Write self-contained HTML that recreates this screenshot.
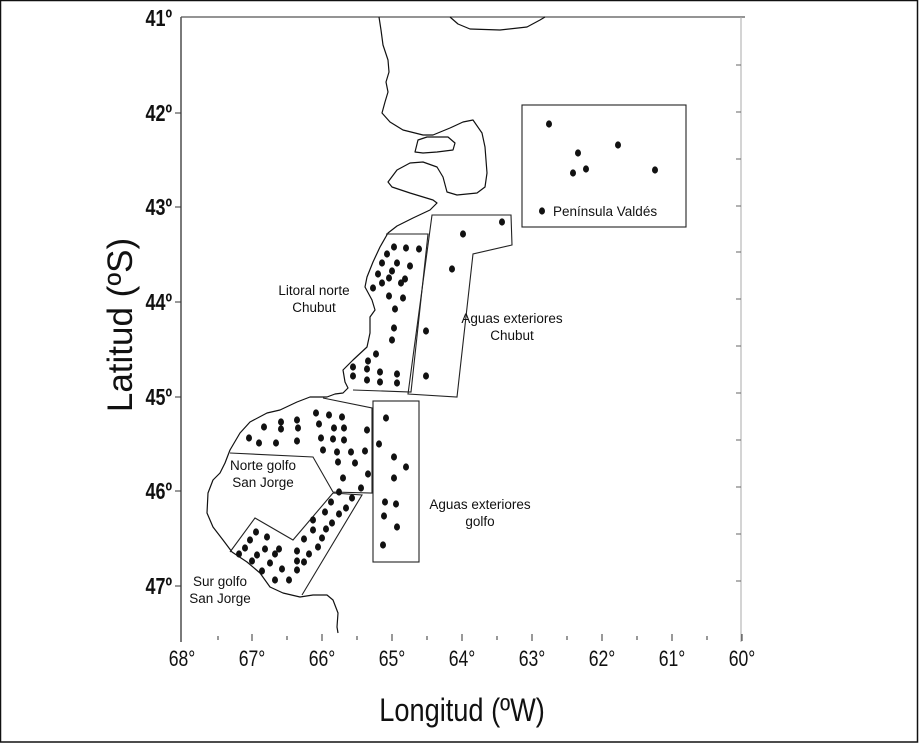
<!DOCTYPE html>
<html><head><meta charset="utf-8"><style>
html,body{margin:0;padding:0;background:#fff;}
svg{display:block;}
text{font-family:"Liberation Sans",Arial,sans-serif;fill:#111;}
ellipse{rx:3px;ry:3.6px;}
</style></head><body>
<svg width="920" height="743" viewBox="0 0 920 743" xmlns="http://www.w3.org/2000/svg">
<rect x="0.5" y="0.5" width="917" height="741.5" fill="#fff" stroke="#111" stroke-width="1.5"/>
<line x1="181" y1="17" x2="181" y2="642" stroke="#333" stroke-width="1.3"/>
<line x1="181" y1="17" x2="745" y2="17" stroke="#555" stroke-width="1.3"/>
<line x1="741" y1="17" x2="741" y2="642" stroke="#aaa" stroke-width="1"/>
<g stroke="#333" stroke-width="1">
<line x1="175" y1="113" x2="181" y2="113"/><line x1="175" y1="207" x2="181" y2="207"/>
<line x1="175" y1="302" x2="181" y2="302"/><line x1="175" y1="397" x2="181" y2="397"/>
<line x1="175" y1="491" x2="181" y2="491"/><line x1="175" y1="586" x2="181" y2="586"/>
</g>
<g stroke="#666" stroke-width="1">
<line x1="741" y1="65" x2="736" y2="65"/><line x1="741" y1="112" x2="736" y2="112"/>
<line x1="741" y1="159" x2="736" y2="159"/><line x1="741" y1="206" x2="736" y2="206"/>
<line x1="741" y1="252" x2="736" y2="252"/><line x1="741" y1="299" x2="736" y2="299"/>
<line x1="741" y1="346" x2="736" y2="346"/><line x1="741" y1="393" x2="736" y2="393"/>
<line x1="741" y1="440" x2="736" y2="440"/><line x1="741" y1="487" x2="736" y2="487"/>
<line x1="741" y1="534" x2="736" y2="534"/><line x1="741" y1="581" x2="736" y2="581"/>
</g>
<g stroke="#333" stroke-width="1">
<line x1="218" y1="636" x2="218" y2="640"/><line x1="252" y1="634" x2="252" y2="641"/>
<line x1="287" y1="636" x2="287" y2="640"/><line x1="322" y1="634" x2="322" y2="641"/>
<line x1="357" y1="636" x2="357" y2="640"/><line x1="392" y1="634" x2="392" y2="641"/>
<line x1="427" y1="636" x2="427" y2="640"/><line x1="462" y1="634" x2="462" y2="641"/>
<line x1="497" y1="636" x2="497" y2="640"/><line x1="532" y1="634" x2="532" y2="641"/>
<line x1="567" y1="636" x2="567" y2="640"/><line x1="602" y1="634" x2="602" y2="641"/>
<line x1="637" y1="636" x2="637" y2="640"/><line x1="672" y1="634" x2="672" y2="641"/>
<line x1="707" y1="636" x2="707" y2="640"/><line x1="742" y1="634" x2="742" y2="641"/>
</g>
<g font-size="23" font-weight="bold" text-anchor="end">
<text transform="translate(172,26) scale(0.78,1)">41º</text>
<text transform="translate(172,121) scale(0.78,1)">42º</text>
<text transform="translate(172,215) scale(0.78,1)">43º</text>
<text transform="translate(172,310) scale(0.78,1)">44º</text>
<text transform="translate(172,405) scale(0.78,1)">45º</text>
<text transform="translate(172,499) scale(0.78,1)">46º</text>
<text transform="translate(172,594) scale(0.78,1)">47º</text>
</g>
<g font-size="22" text-anchor="middle">
<text transform="translate(182,666) scale(0.8,1)">68°</text>
<text transform="translate(252,666) scale(0.8,1)">67°</text>
<text transform="translate(322,666) scale(0.8,1)">66°</text>
<text transform="translate(392,666) scale(0.8,1)">65°</text>
<text transform="translate(462,666) scale(0.8,1)">64°</text>
<text transform="translate(532,666) scale(0.8,1)">63°</text>
<text transform="translate(602,666) scale(0.8,1)">62°</text>
<text transform="translate(672,666) scale(0.8,1)">61°</text>
<text transform="translate(742,666) scale(0.8,1)">60°</text>
</g>
<text transform="translate(462,721) scale(0.85,1)" font-size="32" text-anchor="middle">Longitud (ºW)</text>
<text transform="translate(132,325) rotate(-90)" font-size="35" text-anchor="middle">Latitud (ºS)</text>

<g fill="none" stroke="#111" stroke-width="1.2" stroke-linejoin="round">
<path d="M379,17 L381,30 L383,45 L388,60 L389,72 L386,82 L388,92 L385,102 L382,113 L390,122 L403,130 L423,135 L433,135 L450,128 L463,122 L473,120 L482,133 L485,147 L487,173 L485,187 L477,193 L457,195 L447,192 L443,177 L437,167 L423,162 L410,163 L397,170 L388,182 L392,187 L410,193 L433,200 L437,203 L430,210 L413,218 L397,226 L388,233 L380,247 L373,262 L367,277 L365,287 L372,300 L375,310 L370,317 L370,333 L367,347 L353,360 L343,370 L345,382 L348,388 L343,393 L335,394 L327,397 L310,397 L297,402 L280,410 L267,413 L250,422 L240,433 L230,450 L225,463 L220,473 L213,480 L208,493 L207,513 L213,527 L223,540 L232,552 L247,562 L260,573 L270,587 L283,593 L300,597 L313,595 L327,595 L333,600 L338,613 L337,627 L338,633"/>
<path d="M415,152 L418,140 L427,137 L448,137 L455,143 L453,150 L437,152 L423,153 Z"/>
<path d="M450,17 L458,24 L470,29 L500,30 L527,27 L540,20 L545,17"/>
</g>
<g fill="none" stroke="#222" stroke-width="1.1">
<path d="M386,234 L428,234 L411,392 L353,390"/>
<path d="M432,215 L511,215 L512,245 L473,254 L457,397 L408,394 Z"/>
<path d="M323,398 L372,408 L372,493 L333,492 L313,457 L230,453"/>
<path d="M333,493 L362,495 L302,595 M230,552 L255,518 L293,540 L333,493"/>
<rect x="373" y="401" width="46" height="161"/>
<rect x="522" y="105" width="164" height="122"/>
</g>
<g fill="#111">
<ellipse cx="394" cy="247" rx="3" ry="3.6"/><ellipse cx="406" cy="248" rx="3" ry="3.6"/><ellipse cx="419" cy="249" rx="3" ry="3.6"/>
<ellipse cx="387" cy="254" rx="3" ry="3.6"/><ellipse cx="382" cy="263" rx="3" ry="3.6"/><ellipse cx="397" cy="263" rx="3" ry="3.6"/>
<ellipse cx="410" cy="266" rx="3" ry="3.6"/><ellipse cx="378" cy="274" rx="3" ry="3.6"/><ellipse cx="392" cy="271" rx="3" ry="3.6"/>
<ellipse cx="389" cy="278" rx="3" ry="3.6"/><ellipse cx="382" cy="283" rx="3" ry="3.6"/><ellipse cx="405" cy="279" rx="3" ry="3.6"/>
<ellipse cx="401" cy="283" rx="3" ry="3.6"/><ellipse cx="373" cy="288" rx="3" ry="3.6"/><ellipse cx="389" cy="296" rx="3" ry="3.6"/>
<ellipse cx="403" cy="298" rx="3" ry="3.6"/><ellipse cx="395" cy="309" rx="3" ry="3.6"/><ellipse cx="394" cy="328" rx="3" ry="3.6"/>
<ellipse cx="392" cy="340" rx="3" ry="3.6"/><ellipse cx="376" cy="354" rx="3" ry="3.6"/><ellipse cx="368" cy="361" rx="3" ry="3.6"/>
<ellipse cx="353" cy="367" rx="3" ry="3.6"/><ellipse cx="367" cy="369" rx="3" ry="3.6"/><ellipse cx="353" cy="376" rx="3" ry="3.6"/>
<ellipse cx="367" cy="380" rx="3" ry="3.6"/><ellipse cx="380" cy="372" rx="3" ry="3.6"/><ellipse cx="380" cy="382" rx="3" ry="3.6"/>
<ellipse cx="397" cy="374" rx="3" ry="3.6"/><ellipse cx="397" cy="383" rx="3" ry="3.6"/>
<ellipse cx="502" cy="222" rx="3" ry="3.6"/><ellipse cx="463" cy="234" rx="3" ry="3.6"/><ellipse cx="452" cy="269" rx="3" ry="3.6"/>
<ellipse cx="426" cy="331" rx="3" ry="3.6"/><ellipse cx="426" cy="376" rx="3" ry="3.6"/>
<ellipse cx="549" cy="124" rx="3.2" ry="3.7"/><ellipse cx="578" cy="153" rx="3" ry="3.6"/><ellipse cx="573" cy="173" rx="3" ry="3.6"/>
<ellipse cx="586" cy="169" rx="3" ry="3.6"/><ellipse cx="618" cy="145" rx="3.2" ry="3.7"/><ellipse cx="655" cy="170" rx="3" ry="3.6"/>
<ellipse cx="542" cy="211" rx="3" ry="3.6"/>
<ellipse cx="316" cy="413" rx="3" ry="3.6"/><ellipse cx="329" cy="415" rx="3" ry="3.6"/><ellipse cx="342" cy="417" rx="3" ry="3.6"/>
<ellipse cx="264" cy="427" rx="3" ry="3.6"/><ellipse cx="281" cy="422" rx="3" ry="3.6"/><ellipse cx="281" cy="429" rx="3" ry="3.6"/>
<ellipse cx="297" cy="420" rx="3" ry="3.6"/><ellipse cx="298" cy="428" rx="3" ry="3.6"/><ellipse cx="319" cy="424" rx="3" ry="3.6"/>
<ellipse cx="334" cy="428" rx="3" ry="3.6"/><ellipse cx="344" cy="428" rx="3" ry="3.6"/><ellipse cx="367" cy="430" rx="3" ry="3.6"/>
<ellipse cx="249" cy="438" rx="3" ry="3.6"/><ellipse cx="259" cy="443" rx="3" ry="3.6"/><ellipse cx="276" cy="443" rx="3" ry="3.6"/>
<ellipse cx="297" cy="441" rx="3" ry="3.6"/><ellipse cx="321" cy="438" rx="3" ry="3.6"/><ellipse cx="333" cy="439" rx="3" ry="3.6"/>
<ellipse cx="344" cy="440" rx="3" ry="3.6"/><ellipse cx="323" cy="450" rx="3" ry="3.6"/><ellipse cx="337" cy="452" rx="3" ry="3.6"/>
<ellipse cx="351" cy="452" rx="3" ry="3.6"/><ellipse cx="365" cy="451" rx="3" ry="3.6"/><ellipse cx="338" cy="462" rx="3" ry="3.6"/>
<ellipse cx="355" cy="463" rx="3" ry="3.6"/><ellipse cx="343" cy="478" rx="3" ry="3.6"/><ellipse cx="368" cy="474" rx="3" ry="3.6"/>
<ellipse cx="339" cy="492" rx="3" ry="3.6"/><ellipse cx="361" cy="488" rx="3" ry="3.6"/>
<ellipse cx="386" cy="418" rx="3" ry="3.6"/><ellipse cx="379" cy="444" rx="3" ry="3.6"/><ellipse cx="394" cy="457" rx="3" ry="3.6"/>
<ellipse cx="406" cy="467" rx="3" ry="3.6"/><ellipse cx="394" cy="478" rx="3" ry="3.6"/><ellipse cx="385" cy="502" rx="3" ry="3.6"/>
<ellipse cx="396" cy="504" rx="3" ry="3.6"/><ellipse cx="384" cy="516" rx="3" ry="3.6"/><ellipse cx="397" cy="527" rx="3" ry="3.6"/>
<ellipse cx="383" cy="545" rx="3" ry="3.6"/>
<ellipse cx="352" cy="498" rx="3" ry="3.6"/><ellipse cx="331" cy="502" rx="3" ry="3.6"/><ellipse cx="346" cy="508" rx="3" ry="3.6"/>
<ellipse cx="325" cy="512" rx="3" ry="3.6"/><ellipse cx="339" cy="514" rx="3" ry="3.6"/><ellipse cx="313" cy="520" rx="3" ry="3.6"/>
<ellipse cx="332" cy="523" rx="3" ry="3.6"/><ellipse cx="326" cy="529" rx="3" ry="3.6"/><ellipse cx="304" cy="539" rx="3" ry="3.6"/>
<ellipse cx="322" cy="538" rx="3" ry="3.6"/><ellipse cx="313" cy="530" rx="3" ry="3.6"/><ellipse cx="256" cy="532" rx="3" ry="3.6"/>
<ellipse cx="267" cy="537" rx="3" ry="3.6"/><ellipse cx="318" cy="547" rx="3" ry="3.6"/><ellipse cx="309" cy="554" rx="3" ry="3.6"/>
<ellipse cx="297" cy="551" rx="3" ry="3.6"/><ellipse cx="250" cy="540" rx="3" ry="3.6"/><ellipse cx="245" cy="548" rx="3" ry="3.6"/>
<ellipse cx="257" cy="555" rx="3" ry="3.6"/><ellipse cx="265" cy="549" rx="3" ry="3.6"/><ellipse cx="279" cy="549" rx="3" ry="3.6"/>
<ellipse cx="275" cy="554" rx="3" ry="3.6"/><ellipse cx="297" cy="561" rx="3" ry="3.6"/><ellipse cx="304" cy="562" rx="3" ry="3.6"/>
<ellipse cx="239" cy="554" rx="3" ry="3.6"/><ellipse cx="252" cy="561" rx="3" ry="3.6"/><ellipse cx="270" cy="563" rx="3" ry="3.6"/>
<ellipse cx="262" cy="571" rx="3" ry="3.6"/><ellipse cx="282" cy="569" rx="3" ry="3.6"/><ellipse cx="297" cy="570" rx="3" ry="3.6"/>
<ellipse cx="275" cy="580" rx="3" ry="3.6"/><ellipse cx="289" cy="580" rx="3" ry="3.6"/>
</g>
<g font-size="13.5" text-anchor="middle">
<text x="314" y="295">Litoral norte</text><text x="314" y="312">Chubut</text>
<text x="512" y="323">Aguas exteriores</text><text x="512" y="340">Chubut</text>
<text x="263" y="470">Norte golfo</text><text x="263" y="487">San Jorge</text>
<text x="480" y="509">Aguas exteriores</text><text x="480" y="526">golfo</text>
<text x="220" y="586">Sur golfo</text><text x="220" y="603">San Jorge</text>
<text x="553" y="216" text-anchor="start">Península Valdés</text>
</g>
</svg>
</body></html>
